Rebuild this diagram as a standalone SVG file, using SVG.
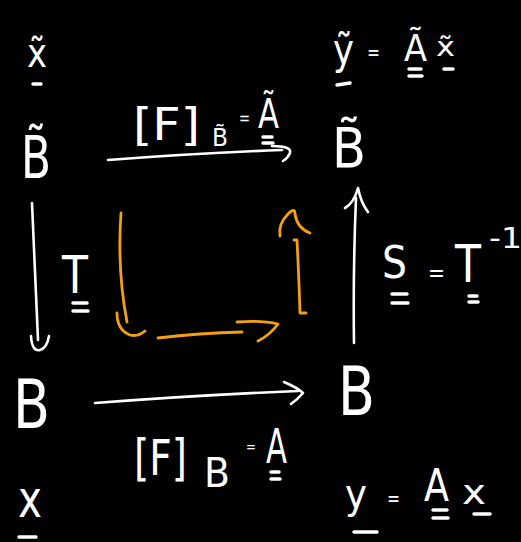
<svg xmlns="http://www.w3.org/2000/svg" width="521" height="542" viewBox="0 0 521 542">
<defs>
<style>
text{font-family:"DejaVu Sans","Liberation Sans",sans-serif;fill:#fff;}
.ln{stroke:#fff;stroke-width:2.6;fill:none;stroke-linecap:round;stroke-linejoin:round;}
.ul{stroke:#fff;stroke-width:3.5;fill:none;stroke-linecap:round;}
.or{stroke:#f5a00f;stroke-width:2.8;fill:none;stroke-linecap:round;stroke-linejoin:round;}
</style>
</defs>
<rect x="0" y="0" width="521" height="542" fill="#000"/>

<g id="node-Btilde-left">
<text x="27" y="67" font-size="40" textLength="20" lengthAdjust="spacingAndGlyphs">x̃</text>
<line class="ul" x1="33" y1="84" x2="41" y2="84"/>
<text x="21" y="178" font-size="58" textLength="30" lengthAdjust="spacingAndGlyphs">B̃</text>
</g>

<g id="node-Btilde-right">
<text x="333" y="64" font-size="42" textLength="21" lengthAdjust="spacingAndGlyphs">ỹ</text>
<line class="ul" x1="337" y1="85" x2="350" y2="83"/>
<text x="367" y="60" font-size="22" textLength="13" lengthAdjust="spacingAndGlyphs">=</text>
<text x="404" y="61" font-size="38" textLength="23" lengthAdjust="spacingAndGlyphs">Ã</text>
<line class="ul" x1="409" y1="69" x2="421" y2="69"/>
<line class="ul" x1="409" y1="76" x2="422" y2="76"/>
<text x="436" y="56" font-size="26" textLength="19" lengthAdjust="spacingAndGlyphs">x̃</text>
<line class="ul" x1="444" y1="69" x2="453" y2="69"/>
<text x="332" y="167" font-size="56" textLength="34" lengthAdjust="spacingAndGlyphs">B̃</text>
</g>

<g id="node-B-left">
<text x="13" y="428" font-size="68" textLength="37" lengthAdjust="spacingAndGlyphs">B</text>
<text x="18" y="517" font-size="52" textLength="24" lengthAdjust="spacingAndGlyphs">x</text>
<line class="ul" x1="19" y1="537" x2="36" y2="537"/>
</g>

<g id="node-B-right">
<text x="338" y="415" font-size="68" textLength="37" lengthAdjust="spacingAndGlyphs">B</text>
<text x="345" y="508" font-size="40" textLength="22" lengthAdjust="spacingAndGlyphs">y</text>
<line class="ul" x1="354" y1="532" x2="377" y2="532"/>
<text x="387" y="506" font-size="22" textLength="13" lengthAdjust="spacingAndGlyphs">=</text>
<text x="424" y="501" font-size="45" textLength="25" lengthAdjust="spacingAndGlyphs">A</text>
<line class="ul" x1="433" y1="510" x2="447" y2="510"/>
<line class="ul" x1="433" y1="518" x2="448" y2="518"/>
<text x="462" y="504" font-size="34" textLength="24" lengthAdjust="spacingAndGlyphs">x</text>
<line class="ul" x1="474" y1="514" x2="490" y2="514"/>
</g>

<g id="connectors">
<path class="ln" d="M108 160 Q200 153 282 150"/>
<path class="ln" d="M272 146 Q292 146 290 153 Q288 158 283 161"/>
<path class="ln" d="M95 403 Q200 395 298 391"/>
<path class="ln" d="M284 382 Q298 388 303 393 Q298 399 291 404"/>
<path class="ln" d="M32 203 Q35 270 38 340"/>
<path class="ln" d="M31 336 Q32 352 40 350 Q47 348 49 336"/>
<path class="ln" d="M354 343 Q353 270 356 198"/>
<path class="ln" d="M345 208 Q354 203 358 188 Q361 203 368 212"/>
<path class="or" d="M121 213 Q117 270 127 322"/>
<path class="or" d="M117 313 Q117 330 130 335 Q138 337 145 331"/>
<path class="or" d="M158 338 Q200 333 242 332"/>
<path class="or" d="M237 322 Q262 320 278 324 Q270 335 258 341"/>
<path class="or" d="M294 240 L297 240 Q299 280 300 313 L306 313"/>
<path class="or" d="M280 236 Q278 224 288 214 Q295 207 295 214 Q297 228 310 233"/>
</g>

<g id="label-top">
<text x="133" y="140" font-size="44" textLength="67" lengthAdjust="spacingAndGlyphs">[F]</text>
<text x="212" y="146" font-size="24" textLength="16" lengthAdjust="spacingAndGlyphs">B̃</text>
<text x="239" y="124" font-size="18" textLength="11" lengthAdjust="spacingAndGlyphs">=</text>
<text x="258" y="128" font-size="40" textLength="21" lengthAdjust="spacingAndGlyphs">Ã</text>
<line class="ul" x1="263" y1="137" x2="272" y2="137"/>
<line class="ul" x1="263" y1="143" x2="273" y2="143"/>
</g>

<g id="label-left">
<text x="62" y="293" font-size="52" textLength="26" lengthAdjust="spacingAndGlyphs">T</text>
<line class="ul" x1="73" y1="303" x2="87" y2="303"/>
<line class="ul" x1="73" y1="311" x2="88" y2="311"/>
</g>

<g id="label-right">
<text x="382" y="278" font-size="44" textLength="25" lengthAdjust="spacingAndGlyphs">S</text>
<line class="ul" x1="392" y1="294" x2="407" y2="294"/>
<line class="ul" x1="392" y1="303" x2="408" y2="303"/>
<text x="428" y="281" font-size="24" textLength="17" lengthAdjust="spacingAndGlyphs">=</text>
<text x="455" y="282" font-size="52" textLength="26" lengthAdjust="spacingAndGlyphs">T</text>
<line class="ul" x1="469" y1="296" x2="477" y2="296"/>
<line class="ul" x1="469" y1="302" x2="478" y2="302"/>
<text x="489" y="248" font-size="28" textLength="33" lengthAdjust="spacingAndGlyphs">-1</text>
</g>

<g id="label-bottom">
<text x="134" y="475" font-size="50" textLength="53" lengthAdjust="spacingAndGlyphs">[F]</text>
<text x="204" y="487" font-size="40" textLength="26" lengthAdjust="spacingAndGlyphs">B</text>
<text x="246" y="452" font-size="16" textLength="10" lengthAdjust="spacingAndGlyphs">=</text>
<text x="266" y="463" font-size="48" textLength="21" lengthAdjust="spacingAndGlyphs">A</text>
<line class="ul" x1="271" y1="472" x2="279" y2="472"/>
<line class="ul" x1="271" y1="479" x2="280" y2="479"/>
</g>
</svg>
